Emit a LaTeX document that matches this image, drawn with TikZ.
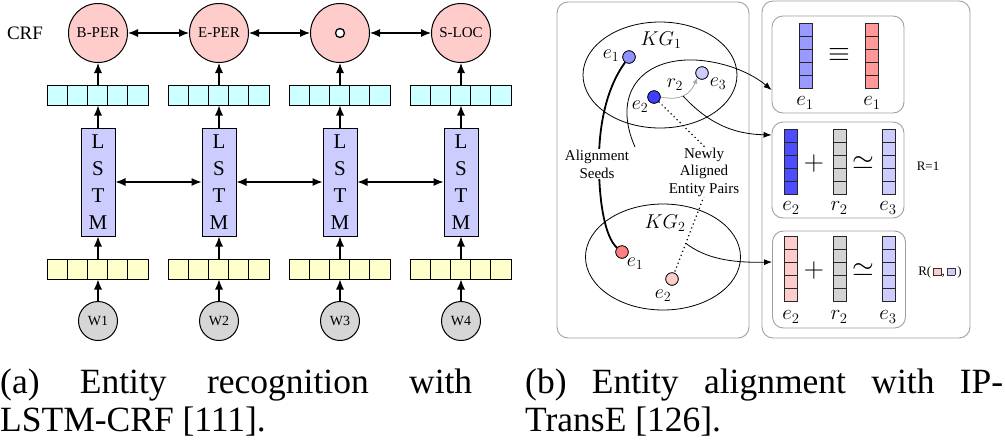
\documentclass[tikz,border=0pt]{standalone}
\usepackage{fix-cm}
\usepackage{fontspec}
\setmainfont{Liberation Serif}
\usetikzlibrary{arrows.meta,calc,shapes.geometric}
\definecolor{pinkc}{HTML}{FFCCCC}
\definecolor{cyanc}{HTML}{CCFFFF}
\definecolor{lavc}{HTML}{CCCCFF}
\definecolor{yelc}{HTML}{FFFFCC}
\definecolor{wgray}{HTML}{D6D6D6}
\definecolor{vgray}{HTML}{D3D3D3}
\definecolor{midblue}{HTML}{9999FF}
\definecolor{nodeblue}{HTML}{9090FF}
\definecolor{strongblue}{HTML}{4D4DFF}
\definecolor{deepblue}{HTML}{3F3FFF}
\definecolor{redv}{HTML}{FF9999}
\definecolor{nodered}{HTML}{FF8080}
\definecolor{boxgray}{HTML}{A0A0A0}
\newcommand{\sqbox}[1]{{\setlength\fboxsep{0pt}\setlength\fboxrule{0.6pt}\fcolorbox{black!80}{#1}{\rule{0pt}{7pt}\hspace{7pt}}}}
\newcommand{\vecbar}[3]{\foreach \k in {0,...,4}{\draw[cell,fill=#3] (#1,{#2+13*\k}) rectangle ++(13,13);}}
\begin{document}
\begin{tikzpicture}[x=1pt,y=-1pt,
  lw/.style={line width=1pt},
  crfnode/.style={circle,draw,line width=1pt,fill=pinkc,minimum size=59pt,inner sep=0pt,font=\fontsize{15}{15}\selectfont},
  bar/.style={rectangle,draw,line width=1pt,minimum width=101pt,minimum height=20pt,inner sep=0pt},
  lstm/.style={rectangle,draw,line width=1pt,fill=lavc,minimum width=34pt,minimum height=108pt,align=center,font=\fontsize{21}{27}\selectfont,inner sep=0pt},
  wnode/.style={circle,draw,line width=1pt,fill=wgray,minimum size=39pt,inner sep=0pt,font=\fontsize{14}{14}\selectfont},
  arr/.style={-{Latex[length=10pt,width=8pt]},line width=1.1pt},
  darr/.style={{Latex[length=10pt,width=8pt]}-{Latex[length=10pt,width=8pt]},line width=1.1pt},
  barr/.style={-{Latex[length=8pt,width=6pt]},line width=0.8pt},
  cell/.style={draw=black!85,line width=0.8pt},
  ibox/.style={rectangle,draw=boxgray,line width=0.9pt,rounded corners=11pt,inner sep=0pt},
  ent/.style={circle,draw,line width=0.7pt,minimum size=12.5pt,inner sep=0pt},
  kg/.style={ellipse,draw,line width=0.8pt,inner sep=0pt},
  mlab/.style={inner sep=0pt,font=\fontsize{21}{21}\selectfont},
  bigsym/.style={inner sep=0pt,font=\fontsize{28}{28}\selectfont},
  smalltxt/.style={inner sep=0pt,font=\fontsize{13}{13}\selectfont},
  captxt/.style={inner sep=0pt,anchor=base west,font=\fontsize{35.5}{37}\selectfont}
]
\useasboundingbox (0,0) rectangle (1005,440);

% ---------------- (a) LSTM-CRF ----------------
\node[inner sep=0pt,font=\fontsize{19}{19}\selectfont] (crf) at (25,33) {CRF};
\node[crfnode] (c1) at (98,33) {B-PER};
\node[crfnode] (c2) at (219,33) {E-PER};
\node[crfnode] (c3) at (340,33) {};
\node[circle,draw,line width=1.3pt,fill=white,minimum size=9pt,inner sep=0pt] (o3) at (c3) {};
\node[crfnode] (c4) at (461,33) {S-LOC};

\foreach \i/\x in {1/98,2/219,3/340,4/461}{
  \node[bar,fill=cyanc] (h\i) at (\x,95) {};
  \node[bar,fill=yelc] (y\i) at (\x,269) {};
  \foreach \k in {1,2,3,4}{
    \draw[lw] ($(h\i.north west)+(\k*20.2,0)$) -- ($(h\i.south west)+(\k*20.2,0)$);
    \draw[lw] ($(y\i.north west)+(\k*20.2,0)$) -- ($(y\i.south west)+(\k*20.2,0)$);
  }
  \node[lstm] (l\i) at (\x,182) {L\\S\\T\\M};
  \node[wnode] (w\i) at (\x,321) {W\i};
  \draw[arr] (w\i) -- (y\i);
  \draw[arr] (y\i) -- (l\i);
  \draw[arr] (l\i) -- (h\i);
  \draw[arr] (h\i) -- (c\i);
}
\foreach \i/\j in {1/2,2/3,3/4}{
  \draw[darr] (c\i) -- (c\j);
  \draw[darr] (l\i) -- (l\j);
}

% ---------------- (b) IPTransE ----------------
\draw[draw=boxgray,line width=0.9pt,rounded corners=11pt] (557,2) rectangle (749,338);
\draw[draw=boxgray,line width=0.9pt,rounded corners=11pt] (762,1) rectangle (970,338);

\node[ibox,minimum width=132pt,minimum height=97pt] (b1) at (838,64.5) {};
\node[ibox,minimum width=132pt,minimum height=96pt] (b2) at (838,170) {};
\node[ibox,minimum width=133pt,minimum height=97pt] (b3) at (839,279.5) {};

% box 1
\vecbar{799}{23}{midblue}
\vecbar{865}{23}{redv}
\node[bigsym] (eq1) at (839,55) {$\equiv$};
\node[mlab] (b1l1) at (805,103) {$e_1$};
\node[mlab] (b1l2) at (872,103) {$e_1$};
% box 2
\vecbar{784}{129}{strongblue}
\vecbar{833}{129}{vgray}
\vecbar{882}{129}{lavc}
\node[bigsym] (pl2) at (814,163) {$+$};
\node[bigsym] (si2) at (863,163) {$\simeq$};
\node[mlab] (b2l1) at (791,208) {$e_2$};
\node[mlab] (b2l2) at (839,208) {$r_2$};
\node[mlab] (b2l3) at (888,208) {$e_3$};
\node[smalltxt] (r1) at (928,166) {R=1};
% box 3
\vecbar{784}{236}{pinkc}
\vecbar{833}{236}{vgray}
\vecbar{882}{236}{lavc}
\node[bigsym] (pl3) at (814,270) {$+$};
\node[bigsym] (si3) at (863,270) {$\simeq$};
\node[mlab] (b3l1) at (791,317) {$e_2$};
\node[mlab] (b3l2) at (839,317) {$r_2$};
\node[mlab] (b3l3) at (888,317) {$e_3$};
\node[smalltxt] (rr) at (940,272) {R(\,\sqbox{pinkc},\,\sqbox{lavc}\,)};

% knowledge graphs
\node[kg,minimum width=154pt,minimum height=106pt] (kg1) at (660,75) {};
\node[kg,minimum width=155pt,minimum height=106pt] (kg2) at (663,257) {};
\node[inner sep=0pt,font=\fontsize{20}{20}\selectfont] (kg1l) at (661,40) {$KG_1$};
\node[inner sep=0pt,font=\fontsize{20}{20}\selectfont] (kg2l) at (665,223) {$KG_2$};

\node[ent,fill=nodeblue] (n1) at (629,57) {};
\node[ent,fill=deepblue] (n2) at (654,97) {};
\node[ent,fill=lavc] (n3) at (702,73) {};
\node[ent,fill=nodered] (m1) at (622,252) {};
\node[ent,fill=pinkc] (m2) at (672,279) {};

\coordinate (st1) at (635,147);
\coordinate (r2pt) at (683,96);
\coordinate (nc) at (718,160);
\coordinate (dp) at ($(nc)!0.7!(m2)$);

% curves
\draw[line width=0.8pt,-{Latex[length=6pt,width=5pt]},draw=black!35] (n2.east) .. controls (680,101) and (690,95) .. (n3.south west);
\draw[line width=1.8pt] (n1) .. controls (605,90) and (598,130) .. (599,170) .. controls (600,215) and (608,240) .. (m1);
\draw[line width=1.2pt,dash pattern=on 1.2pt off 3pt] (n2) -- (nc) -- (m2);
\draw[barr] (st1) .. controls (612,95) and (640,58) .. (695,60) .. controls (730,62) and (755,76) .. ($(b1.west)+(0,25.5)$);
\draw[barr] (r2pt) .. controls (710,125) and (735,134) .. ($(b2.west)+(0,-35)$);
\draw[barr] (dp) .. controls (705,258) and (730,263) .. ($(b3.west)+(0,-17.5)$);

\node[fill=white,inner sep=1pt,align=center,font=\fontsize{15}{18}\selectfont] (seeds) at (597,164) {Alignment\\Seeds};
\node[fill=white,inner sep=1pt,align=center,font=\fontsize{15}{17.5}\selectfont] (newly) at (704,172) {Newly\\Aligned\\Entity Pairs};

% redraw entity nodes on top
\node[ent,fill=nodeblue] (n1b) at (n1) {};
\node[ent,fill=deepblue] (n2b) at (n2) {};
\node[ent,fill=lavc] (n3b) at (n3) {};
\node[ent,fill=nodered] (m1b) at (m1) {};
\node[ent,fill=pinkc] (m2b) at (m2) {};

\node[mlab,font=\fontsize{20}{20}\selectfont] (n1l) at (611,56) {$e_1$};
\node[mlab,font=\fontsize{20}{20}\selectfont] (n2l) at (640,107) {$e_2$};
\node[mlab,font=\fontsize{20}{20}\selectfont] (n3l) at (718,84) {$e_3$};
\node[mlab,font=\fontsize{20}{20}\selectfont] (r2l) at (675,85) {$r_2$};
\node[mlab,font=\fontsize{20}{20}\selectfont] (m1l) at (635,264) {$e_1$};
\node[mlab,font=\fontsize{20}{20}\selectfont] (m2l) at (663,296) {$e_2$};

% ---------------- captions ----------------
\node[captxt] (ca1) at (0,393) {\makebox[472pt][s]{(a) Entity recognition with}};
\node[captxt] (ca2) at (0,431) {LSTM-CRF [111].};
\node[captxt] (cb1) at (525,393) {\makebox[478pt][s]{(b) Entity alignment with IP-}};
\node[captxt] (cb2) at (525,431) {TransE [126].};
\end{tikzpicture}
\end{document}
